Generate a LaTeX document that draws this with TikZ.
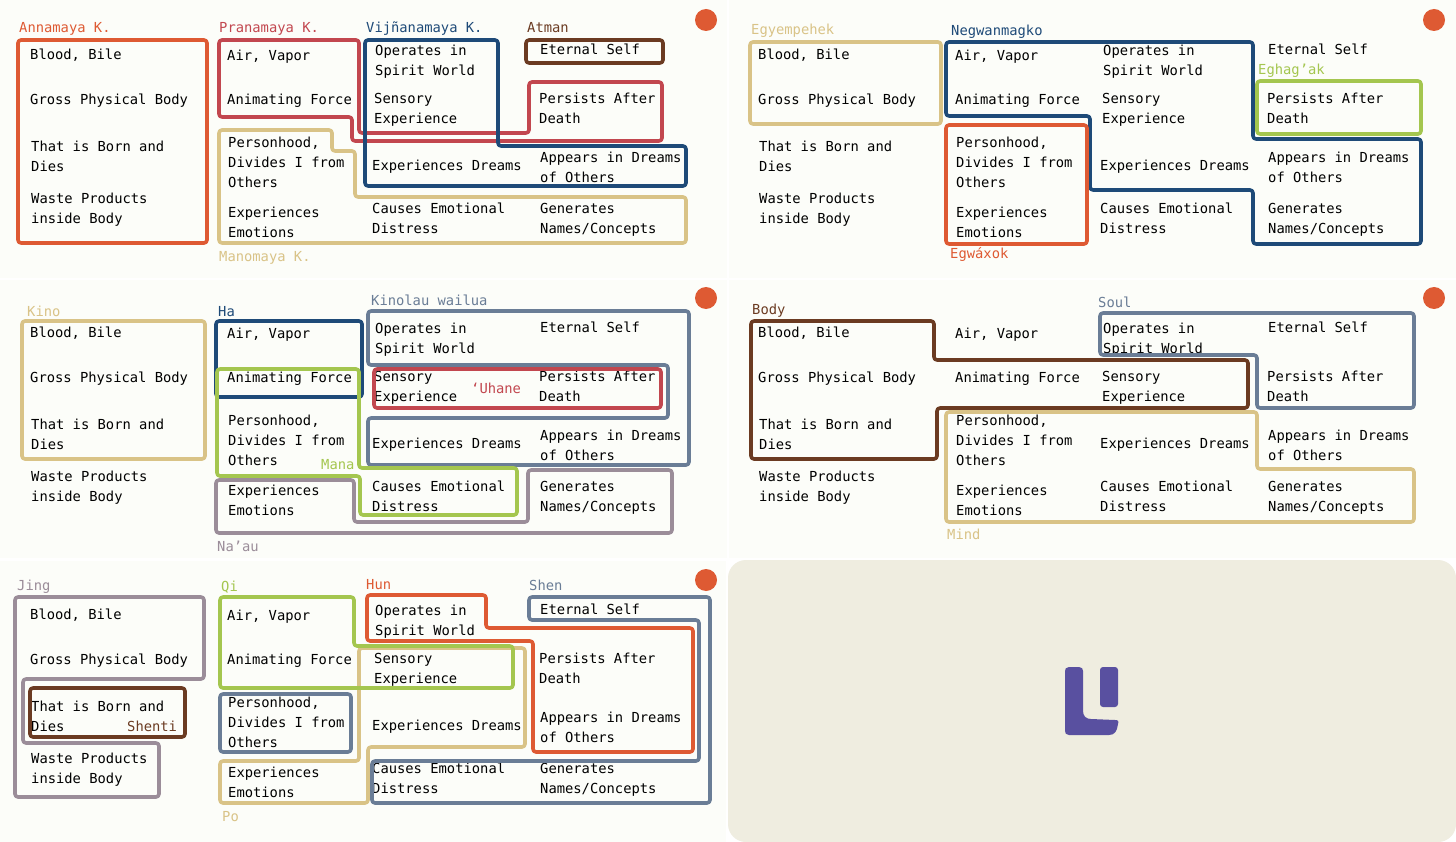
\documentclass[tikz,border=0pt]{standalone}
\usepackage{fontspec}
\setmainfont{DejaVu Sans Mono}
\usepackage{tikz}
\definecolor{panelbg}{HTML}{FCFDF9}
\definecolor{beige}{HTML}{EFEDE0}
\definecolor{logoblue}{HTML}{5950A0}
\definecolor{korange}{HTML}{DE5A33}
\definecolor{kcrimson}{HTML}{C2474F}
\definecolor{knavy}{HTML}{1E4A78}
\definecolor{kbrown}{HTML}{6B3B22}
\definecolor{ktan}{HTML}{D9C387}
\definecolor{kgreen}{HTML}{A4C64F}
\definecolor{kslate}{HTML}{6A7D96}
\definecolor{kmauve}{HTML}{9B8D99}
\tikzset{
  panel/.style={fill=panelbg,draw=none},
  cell/.style={anchor=west,align=left,inner sep=0pt,text=black,font=\fontsize{13.8}{20}\selectfont},
  tag/.style={anchor=west,inner sep=0pt,font=\fontsize{13.8}{20}\selectfont},
  region/.style={draw,line width=3.6pt,rounded corners=3pt,line join=round},
  reddot/.style={circle,fill=korange,inner sep=0pt,minimum size=22pt}
}
% the sixteen phrases and the dot, the same in every panel
\newcommand{\cellset}{
\node[cell] (blood) at (30,55.5) {Blood, Bile};
\node[cell] (gross) at (30,101) {Gross Physical Body};
\node[cell] (born) at (31,156) {That is Born and\\Dies};
\node[cell] (waste) at (31,210) {Waste Products\\inside Body};
\node[cell] (air) at (227,57) {Air, Vapor};
\node[cell] (force) at (227,101) {Animating Force};
\node[cell] (person) at (228,162) {Personhood,\\Divides I from\\Others};
\node[cell] (emotions) at (228,222) {Experiences\\Emotions};
\node[cell] (spirit) at (375,62) {Operates in\\Spirit World};
\node[cell] (sensory) at (374,110) {Sensory\\Experience};
\node[cell] (dreams) at (372,167) {Experiences Dreams};
\node[cell] (distress) at (372,218) {Causes Emotional\\Distress};
\node[cell] (eternal) at (540,49) {Eternal Self};
\node[cell] (persists) at (539,108) {Persists After\\Death};
\node[cell] (appears) at (540,167) {Appears in Dreams\\of Others};
\node[cell] (names) at (540,220) {Generates\\Names/Concepts};
\node[reddot] (dot) at (706,20) {};
}
\begin{document}
\begin{tikzpicture}[x=1pt,y=-1pt]
\useasboundingbox (0,0) rectangle (1456,842);
\fill[white] (0,0) rectangle (1456,842);
\fill[panel] (0,0) rectangle (727,278);
\fill[panel] (729,0) rectangle (1456,278);
\fill[panel] (0,280) rectangle (727,558);
\fill[panel] (729,280) rectangle (1456,558);
\fill[panel] (0,561) rectangle (726,842);
\fill[beige,rounded corners=18pt] (728,560) rectangle (1456,842);

% top left
\begin{scope}[name prefix=a-]
\cellset
\draw[region,korange] (18,40) rectangle (207,243);
\draw[region,kcrimson] (219,40) -- (359,40) -- (359,133) -- (529,133) -- (529,82) -- (662,82) -- (662,141) -- (352,141) -- (352,117) -- (219,117) -- cycle;
\draw[region,knavy] (365,40) -- (498,40) -- (498,146) -- (686,146) -- (686,186) -- (365,186) -- cycle;
\draw[region,kbrown] (526,40) rectangle (663,63);
\draw[region,ktan] (219,130) -- (332,130) -- (332,151) -- (355,151) -- (355,197) -- (686,197) -- (686,243) -- (219,243) -- cycle;
\node[tag,korange] (anna) at (19,29) {Annamaya K.};
\node[tag,kcrimson] (prana) at (219,29) {Pranamaya K.};
\node[tag,knavy] (vijna) at (366,29) {Vijñanamaya K.};
\node[tag,kbrown] (atman) at (527,28) {Atman};
\node[tag,ktan] (mano) at (219,258) {Manomaya K.};
\end{scope}

% top right
\begin{scope}[shift={(728,0)},name prefix=b-]
\cellset
\draw[region,ktan] (22,42) rectangle (213,124);
\draw[region,knavy] (218,42) -- (525,42) -- (525,139) -- (693,139) -- (693,244) -- (525,244) -- (525,190) -- (362,190) -- (362,116) -- (218,116) -- cycle;
\draw[region,kgreen] (529,81) rectangle (693,134);
\draw[region,korange] (218,125) rectangle (359,244);
\node[tag,ktan] (egy) at (23,31) {Egyempehek};
\node[tag,knavy] (negw) at (223,32) {Negwanmagko};
\node[tag,kgreen] (egha) at (530,71) {Eghag’ak};
\node[tag,korange] (egwa) at (222,254) {Egwáxok};
\end{scope}

% middle left
\begin{scope}[shift={(0,278)},name prefix=c-]
\cellset
\draw[region,ktan] (22,43) rectangle (205,181);
\draw[region,knavy] (216,43) rectangle (362,119);
\draw[region,kslate] (368,33) -- (689,33) -- (689,187) -- (368,187) -- (368,140) -- (668,140) -- (668,87) -- (368,87) -- cycle;
\draw[region,kmauve] (216,202) -- (354,202) -- (354,244) -- (528,244) -- (528,192) -- (672,192) -- (672,255) -- (216,255) -- cycle;
\draw[region,kgreen] (217,91) -- (359,91) -- (359,190) -- (517,190) -- (517,237) -- (360,237) -- (360,198) -- (217,198) -- cycle;
\draw[region,kcrimson] (374,91) rectangle (661,130);
\node[tag,ktan] (kino) at (27,33) {Kino};
\node[tag,knavy] (ha) at (218,34) {Ha};
\node[tag,kslate] (kinolau) at (371,22) {Kinolau wailua};
\node[tag,kcrimson] (uhane) at (471,110) {‘Uhane};
\node[tag,kgreen] (mana) at (321,187) {Mana};
\node[tag,kmauve] (naau) at (217,268) {Na’au};
\end{scope}

% middle right
\begin{scope}[shift={(728,278)},name prefix=d-]
\cellset
\draw[region,kslate] (372,35) -- (686,35) -- (686,130) -- (529,130) -- (529,77) -- (372,77) -- cycle;
\draw[region,ktan] (218,134) -- (529,134) -- (529,191) -- (686,191) -- (686,244) -- (218,244) -- cycle;
\draw[region,kbrown] (23,43) -- (206,43) -- (206,82) -- (520,82) -- (520,130) -- (209,130) -- (209,181) -- (23,181) -- cycle;
\node[tag,kbrown] (body) at (24,33) {Body};
\node[tag,kslate] (soul) at (370,24) {Soul};
\node[tag,ktan] (mind) at (219,256) {Mind};
\end{scope}

% bottom left
\begin{scope}[shift={(0,560)},name prefix=e-]
\cellset
\draw[region,kmauve] (15,37) -- (204,37) -- (204,119) -- (23,119) -- (23,183) -- (159,183) -- (159,237) -- (15,237) -- cycle;
\draw[region,kbrown] (30,128) rectangle (185,177);
\draw[region,kslate] (529,37) -- (710,37) -- (710,243) -- (372,243) -- (372,201) -- (699,201) -- (699,60) -- (529,60) -- cycle;
\draw[region,kslate] (220,134) rectangle (351,192);
\draw[region,ktan] (220,201) -- (359,201) -- (359,88) -- (525,88) -- (525,187) -- (368,187) -- (368,243) -- (220,243) -- cycle;
\draw[region,kgreen] (220,37) -- (354,37) -- (354,86) -- (513,86) -- (513,128) -- (220,128) -- cycle;
\draw[region,korange] (367,35) -- (486,35) -- (486,68) -- (693,68) -- (693,192) -- (533,192) -- (533,81) -- (367,81) -- cycle;
\node[tag,kmauve] (jing) at (17,27) {Jing};
\node[tag,kgreen] (qi) at (221,27) {Qi};
\node[tag,korange] (hun) at (366,25) {Hun};
\node[tag,kslate] (shen) at (529,25) {Shen};
\node[tag,kbrown] (shenti) at (127,166) {Shenti};
\node[tag,ktan] (po) at (222,257) {Po};
\end{scope}

% logo in the empty panel
\fill[logoblue] (1069,667) -- (1079,667) .. controls (1082,667) and (1083,669) .. (1083,671) -- (1083,711) .. controls (1083,716) and (1086,719) .. (1091,719) -- (1115,720) .. controls (1118,720) and (1119,721) .. (1118,724) .. controls (1117,731) and (1115,735) .. (1109,735) -- (1069,735) .. controls (1066,735) and (1065,733) .. (1065,731) -- (1065,671) .. controls (1065,669) and (1066,667) .. (1069,667) -- cycle;
\fill[logoblue,rounded corners=3pt] (1100,667) rectangle (1118,707);
\end{tikzpicture}
\end{document}
